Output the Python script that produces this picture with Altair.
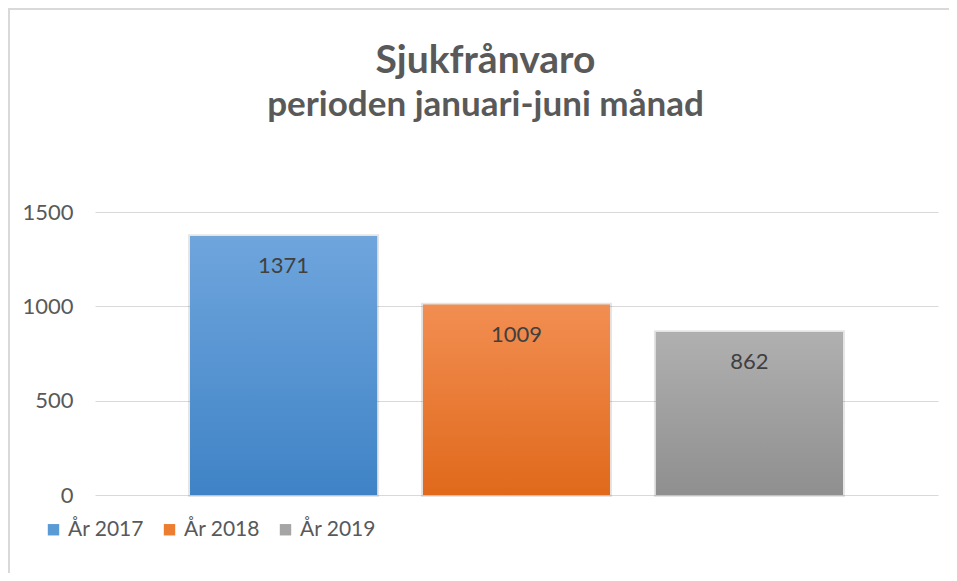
import altair as alt
import pandas as pd

series = ["År 2017", "År 2018", "År 2019"]
values = [1371, 1009, 862]
solid_colors = ["#5b9bd5", "#ed7d31", "#a5a5a5"]
grad_top = ["#6fa5dd", "#f28e52", "#b0b0b0"]
grad_bottom = ["#3f83c6", "#e0691b", "#8f8f8f"]
y_ticks = [0, 500, 1000, 1500]

df = pd.DataFrame({"serie": series, "value": values})

FONT = "Lato"
W, H = 843, 283

x_enc = alt.X("serie:N", scale=alt.Scale(domain=series, paddingInner=0.197, paddingOuter=0.408), axis=None)
y_enc = alt.Y(
    "value:Q",
    scale=alt.Scale(domain=[0, 1500], nice=False),
    axis=alt.Axis(
        values=y_ticks, format="d", grid=True, gridColor="#d9d9d9", gridWidth=1, domain=False, ticks=False,
        labelFontSize=22, labelColor="#595959", labelFont=FONT, labelPadding=22, title=None,
    ),
)

base = alt.Chart(df)

frame = base.mark_rect(fill=None, stroke="#d9d9d9", strokeWidth=2).encode(
    x=alt.value(-86), x2=alt.value(W + 60), y=alt.value(-203), y2=alt.value(H + 120)
).transform_filter(alt.datum.serie == series[0])

bars = base.mark_bar(stroke="#000000", strokeOpacity=0.10, strokeWidth=4).encode(
    x=x_enc,
    y=y_enc,
    color=alt.Color(
        "serie:N",
        scale=alt.Scale(domain=series, range=solid_colors),
        legend=alt.Legend(
            title=None, orient="none", direction="horizontal", legendX=-52, legendY=307,
            symbolType="square", symbolSize=130, symbolStrokeWidth=0, labelFont=FONT,
            labelFontSize=21, labelColor="#595959", labelOffset=4, columnPadding=15,
        ),
    ),
)

grad_layers = []
for s, t, b in zip(series, grad_top, grad_bottom):
    g = alt.Gradient(
        gradient="linear", x1=0, x2=0, y1=0, y2=1,
        stops=[alt.GradientStop(color=t, offset=0), alt.GradientStop(color=b, offset=1)],
    )
    grad_layers.append(
        base.mark_bar(color=g).encode(x=x_enc, y=y_enc).transform_filter(alt.datum.serie == s)
    )

labels = base.mark_text(font=FONT, fontSize=22, color="#404040", baseline="middle", dy=30).encode(
    x=x_enc, y=y_enc, text=alt.Text("value:Q")
)

chart = alt.layer(frame, bars, *grad_layers, labels).properties(
    width=W,
    height=H,
    background="white",
    autosize=alt.AutoSizeParams(type="none"),
    padding={"left": 87, "top": 204, "right": 11, "bottom": 78},
    title=alt.TitleParams(
        text="Sjukfrånvaro",
        subtitle="perioden januari-juni månad",
        font=FONT, fontSize=39, fontWeight="bold", color="#595959",
        subtitleFont=FONT, subtitleFontSize=35, subtitleFontWeight="bold", subtitleColor="#595959",
        subtitlePadding=7, anchor="middle", frame="group", dx=-31, dy=204, offset=89,
    ),
).configure_view(strokeWidth=0, stroke="transparent")

chart.save("out.html", embed_options={"renderer": "svg", "actions": False})
